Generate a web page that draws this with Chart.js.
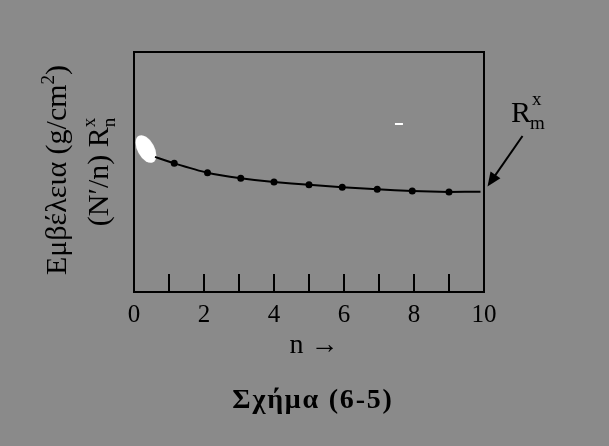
<!DOCTYPE html>
<html>
<head>
<meta charset="utf-8">
<script src="https://cdn.jsdelivr.net/npm/chart.js@4.4.1/dist/chart.umd.min.js"></script>
<style>
  html, body { margin: 0; padding: 0; background: #8a8a8a; }
  canvas { display: block; }
</style>
</head>
<body>
<canvas id="myChart" width="609" height="446"></canvas>
<script>
// ===============================
// DATA
// ===============================
const nValues   = [0.6, 1.15, 2.1, 3.05, 4.0, 5.0, 5.95, 6.95, 7.95, 9.0, 9.9];
const rValues   = [5.63, 5.36, 4.97, 4.74, 4.58, 4.47, 4.36, 4.28, 4.21, 4.17, 4.18];
const hasMarker = [false, true, true, true, true, true, true, true, true, true, false];

const xTickLabels = [0, 2, 4, 6, 8, 10];
const minorTicks  = [1, 2, 3, 4, 5, 6, 7, 8, 9];

// stray white marks in the scan
const blobPoint = [{ x: 0.34, y: 5.96 }];
const dashPoint = [{ x: 7.57, y: 7.0 }];

// arrow pointing at the limit value R_m^x
const arrowFrom = { x: 11.1, y: 6.5 };
const arrowTo   = { x: 10.1, y: 4.4 };

const SERIF = '"Liberation Serif", "DejaVu Serif", serif';

// white ellipse used as a point style
function makeBlob() {
    const c = document.createElement('canvas');
    c.width = 26; c.height = 36;
    const g = c.getContext('2d');
    g.fillStyle = '#ffffff';
    g.beginPath();
    g.ellipse(13, 18, 8.5, 15, -0.5, 0, Math.PI * 2);
    g.fill();
    return c;
}

// ===============================
// EXTRA DRAWING (box, ticks, labels)
// ===============================
const decorations = {
    id: 'decorations',
    afterDraw(chart) {
        const ctx = chart.ctx;
        const area = chart.chartArea;
        const xs = chart.scales.x;
        const ys = chart.scales.y;

        ctx.save();
        ctx.strokeStyle = '#000';
        ctx.lineWidth = 2;
        ctx.strokeRect(area.left, area.top, area.right - area.left, area.bottom - area.top);

        // inward tick marks
        minorTicks.forEach(v => {
            const px = xs.getPixelForValue(v);
            ctx.beginPath();
            ctx.moveTo(px, area.bottom);
            ctx.lineTo(px, area.bottom - 18);
            ctx.stroke();
        });

        // y axis title, two rotated lines
        ctx.fillStyle = '#000';
        ctx.textBaseline = 'alphabetic';
        drawRotated(ctx, 66, 170, [
            { t: 'Εμβέλεια (g/cm', f: 30 },
            { t: '2', f: 19, dy: -12 },
            { t: ')', f: 30 }
        ]);
        drawRotated(ctx, 108, 172, [
            { t: '(N\u2032/n) R', f: 30 },
            { t: 'x', f: 19, dy: -13, stack: 'n', sdy: 7 }
        ]);

        // x axis title
        ctx.font = '28px ' + SERIF;
        ctx.textAlign = 'center';
        ctx.fillText('n →', 314, 353);

        // R_m^x annotation
        ctx.font = '30px ' + SERIF;
        ctx.textAlign = 'left';
        ctx.fillText('R', 511, 122);
        ctx.font = '19px ' + SERIF;
        ctx.fillText('x', 532, 105);
        ctx.fillText('m', 530, 129);

        // arrow
        const x0 = xs.getPixelForValue(arrowFrom.x), y0 = ys.getPixelForValue(arrowFrom.y);
        const x1 = xs.getPixelForValue(arrowTo.x),   y1 = ys.getPixelForValue(arrowTo.y);
        const ang = Math.atan2(y1 - y0, x1 - x0);
        ctx.beginPath();
        ctx.moveTo(x0, y0);
        ctx.lineTo(x1 - 8 * Math.cos(ang), y1 - 8 * Math.sin(ang));
        ctx.stroke();
        ctx.beginPath();
        ctx.moveTo(x1, y1);
        ctx.lineTo(x1 - 14 * Math.cos(ang) + 6 * Math.sin(ang), y1 - 14 * Math.sin(ang) - 6 * Math.cos(ang));
        ctx.lineTo(x1 - 14 * Math.cos(ang) - 6 * Math.sin(ang), y1 - 14 * Math.sin(ang) + 6 * Math.cos(ang));
        ctx.closePath();
        ctx.fill();

        // caption
        ctx.font = 'bold 28px ' + SERIF;
        ctx.textAlign = 'center';
        ctx.letterSpacing = '1.8px';
        ctx.fillText('Σχήμα (6-5)', 313, 408);
        ctx.letterSpacing = '0px';
        ctx.restore();
    }
};

// draws text pieces along a line rotated -90deg, centred on (cx, cy)
function drawRotated(ctx, cx, cy, parts) {
    ctx.save();
    ctx.translate(cx, cy);
    ctx.rotate(-Math.PI / 2);
    let total = 0;
    parts.forEach(p => {
        ctx.font = p.f + 'px ' + SERIF;
        p.w = ctx.measureText(p.t).width;
        if (p.stack) p.w = Math.max(p.w, ctx.measureText(p.stack).width);
        total += p.w;
    });
    let x = -total / 2;
    ctx.textAlign = 'left';
    parts.forEach(p => {
        ctx.font = p.f + 'px ' + SERIF;
        ctx.fillText(p.t, x, p.dy || 0);
        if (p.stack) ctx.fillText(p.stack, x, p.sdy);
        x += p.w;
    });
    ctx.restore();
}

// ===============================
// CHART
// ===============================
const ctx = document.getElementById('myChart').getContext('2d');

new Chart(ctx, {
    type: 'scatter',
    data: {
        datasets: [
            {
                label: 'R',
                data: nValues.map((n, i) => ({ x: n, y: rValues[i] })),
                showLine: true,
                borderColor: '#000',
                backgroundColor: '#000',
                borderWidth: 2,
                tension: 0.15,
                pointRadius: hasMarker.map(m => m ? 2.5 : 0),
                pointHoverRadius: 0
            },
            {
                label: 'blob',
                data: blobPoint,
                pointStyle: makeBlob(),
                pointRadius: 10
            },
            {
                label: 'dash',
                data: dashPoint,
                pointStyle: 'line',
                pointRadius: 4,
                borderColor: '#fff',
                borderWidth: 2
            }
        ]
    },
    options: {
        responsive: false,
        animation: false,
        layout: { padding: { left: 134, right: 125, top: 52, bottom: 0 } },
        plugins: {
            legend: { display: false },
            tooltip: { enabled: false }
        },
        scales: {
            x: {
                type: 'linear',
                min: 0,
                max: 10,
                afterFit: s => { s.height = 154; },
                grid: { display: false, drawTicks: false },
                border: { display: false },
                ticks: {
                    stepSize: 1,
                    padding: 8,
                    color: '#000',
                    font: { family: SERIF, size: 25 },
                    callback: v => xTickLabels.includes(v) ? String(v) : ''
                }
            },
            y: {
                display: false,
                min: 0,
                max: 10
            }
        }
    },
    plugins: [decorations]
});
</script>
</body>
</html>
